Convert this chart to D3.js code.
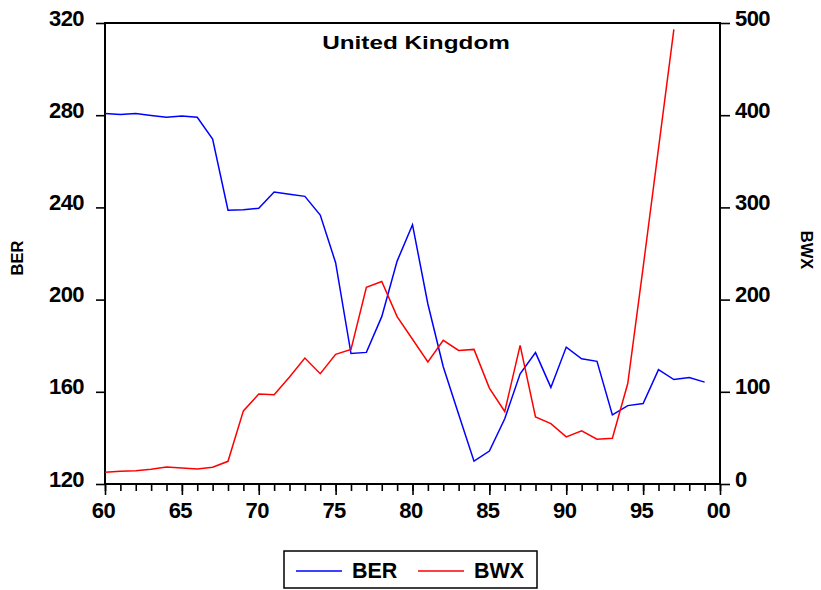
<!DOCTYPE html>
<html>
<head>
<meta charset="utf-8">
<script src="https://cdn.jsdelivr.net/npm/d3@7"></script>
<style>
  html, body { margin: 0; padding: 0; background: #fff; }
  svg { display: block; font-family: "Liberation Sans", Arial, sans-serif; font-weight: bold; }
</style>
</head>
<body>
<svg id="chart" width="821" height="590"></svg>
<script>
// Years of the series
const years = d3.range(1960, 2000);

// Left-axis series (1960–1999)
const berValues = [
  280.7, 280.3, 280.7, 279.9, 279.1, 279.6, 279.1, 269.6, 238.8, 239.0,
  239.6, 246.7, 245.7, 244.8, 236.7, 216.0, 176.6, 177.1, 192.6, 216.7,
  232.5, 198.1, 170.9, 150.3, 129.9, 134.3, 148.3, 167.8, 177.0, 161.9,
  179.4, 174.3, 173.2, 150.0, 154.0, 154.9, 169.6, 165.3, 166.2, 164.2
];

// Right-axis series (1960–1997)
const bwxValues = [
  12.7, 13.8, 14.5, 16.0, 18.5, 17.4, 16.3, 18.1, 24.6, 79.3,
  97.5, 96.7, 116.0, 136.6, 119.6, 140.6, 146.0, 213.4, 219.6, 181.5,
  157.0, 132.3, 155.8, 144.9, 146.0, 104.0, 78.6, 150.3, 72.8, 65.5,
  51.1, 57.6, 48.6, 49.7, 109.0, 235.0, 364.0, 493.0
];

const berTicks = [120, 160, 200, 240, 280, 320];
const bwxTicks = [0, 100, 200, 300, 400, 500];
const yearMajorTicks = [1960, 1965, 1970, 1975, 1980, 1985, 1990, 1995, 2000];
const yearMinorTicks = d3.range(1960, 2001);

const title = "United Kingdom";
const seriesNames = ["BER", "BWX"];
const seriesColors = ["#0000ff", "#ff0000"];

const svg = d3.select("#chart");
const plotLeft = 105, plotRight = 720, plotTop = 23, plotBottom = 484;

const x = d3.scaleLinear().domain([1960, 2000]).range([plotLeft, plotRight]);
const yL = d3.scaleLinear().domain([120, 320]).range([plotBottom, plotTop]);
const yR = d3.scaleLinear().domain([0, 500]).range([plotBottom, plotTop]);

// Plot frame
svg.append("rect")
  .attr("x", plotLeft).attr("y", plotTop)
  .attr("width", plotRight - plotLeft).attr("height", plotBottom - plotTop)
  .attr("fill", "none").attr("stroke", "#000").attr("stroke-width", 2);

function styleAxis(g) {
  g.select(".domain").remove();
  g.selectAll(".tick line").attr("stroke", "#000").attr("stroke-width", 1.6);
  g.selectAll(".tick text").attr("fill", "#000").attr("font-size", 22)
    .attr("font-weight", "bold").attr("letter-spacing", "-0.6px");
}

// Left axis
const gL = svg.append("g").attr("transform", `translate(${plotLeft},0)`)
  .call(d3.axisLeft(yL).tickValues(berTicks).tickSize(9).tickPadding(12));
styleAxis(gL);
gL.selectAll(".tick text").attr("y", -5);

// Right axis
const gR = svg.append("g").attr("transform", `translate(${plotRight},0)`)
  .call(d3.axisRight(yR).tickValues(bwxTicks).tickSize(10).tickPadding(5));
styleAxis(gR);
gR.selectAll(".tick text").attr("y", -5);

// Bottom axis: minor yearly ticks and labelled five-year ticks
const gMinor = svg.append("g").attr("transform", `translate(0,${plotBottom})`)
  .call(d3.axisBottom(x).tickValues(yearMinorTicks).tickSize(7).tickFormat(""));
styleAxis(gMinor);

const gMajor = svg.append("g").attr("transform", `translate(0,${plotBottom})`)
  .call(d3.axisBottom(x).tickValues(yearMajorTicks).tickSize(11).tickPadding(7)
    .tickFormat(d => d3.format("02d")(d % 100)));
styleAxis(gMajor);
gMajor.selectAll(".tick text").attr("x", -2);

// Axis titles
svg.append("text")
  .attr("transform", "translate(23,258) rotate(-90)")
  .attr("text-anchor", "middle").attr("font-size", 16.5).text(seriesNames[0]);
svg.append("text")
  .attr("transform", "translate(801,250) rotate(90)")
  .attr("text-anchor", "middle").attr("font-size", 16.5).text(seriesNames[1]);

// Title (wide bold lettering)
svg.append("text")
  .attr("transform", "translate(416,49) scale(1.28,1)")
  .attr("text-anchor", "middle").attr("font-size", 19).text(title);

// Series lines
const lineL = d3.line().x((d, i) => x(years[i])).y(d => yL(d));
const lineR = d3.line().x((d, i) => x(years[i])).y(d => yR(d));

svg.append("path").datum(berValues)
  .attr("d", lineL).attr("fill", "none")
  .attr("stroke", seriesColors[0]).attr("stroke-width", 1.5);

svg.append("path").datum(bwxValues)
  .attr("d", lineR).attr("fill", "none")
  .attr("stroke", seriesColors[1]).attr("stroke-width", 1.5);

// Legend
const legend = svg.append("g");
legend.append("rect")
  .attr("x", 284).attr("y", 551).attr("width", 253).attr("height", 37)
  .attr("fill", "#fff").attr("stroke", "#000").attr("stroke-width", 1.5);
const legendItems = [
  { name: seriesNames[0], color: seriesColors[0], x0: 296 },
  { name: seriesNames[1], color: seriesColors[1], x0: 418 }
];
legendItems.forEach(it => {
  legend.append("line")
    .attr("x1", it.x0).attr("x2", it.x0 + 46)
    .attr("y1", 571).attr("y2", 571)
    .attr("stroke", it.color).attr("stroke-width", 1.5);
  legend.append("text")
    .attr("x", it.x0 + 56).attr("y", 578)
    .attr("font-size", 21.5).text(it.name);
});
</script>
</body>
</html>
